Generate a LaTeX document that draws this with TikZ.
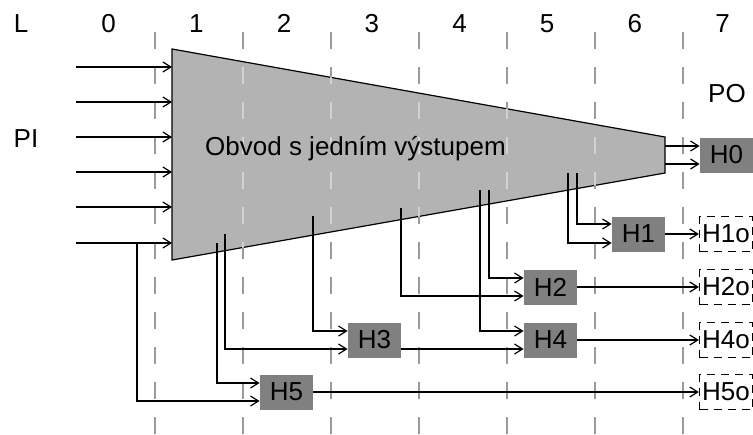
\documentclass[tikz,border=0pt]{standalone}
\usepackage{fontspec}
\setmainfont{Liberation Sans}
\usetikzlibrary{arrows.meta}

\definecolor{trapgray}{HTML}{B3B3B3}
\definecolor{gategray}{HTML}{808080}
\definecolor{levelgray}{HTML}{9A9A9A}
\definecolor{levellight}{HTML}{D2D2D2}

\tikzset{
  gate/.style={fill=gategray, minimum width=26.5pt, minimum height=17.5pt, inner sep=0pt},
  outgate/.style={draw, dash pattern=on 4pt off 3pt, line width=0.6pt, minimum width=26.5pt, minimum height=17.5pt, inner sep=0pt},
  level/.style={levelgray, line width=0.6pt, dash pattern=on 8.5pt off 9pt},
  wire/.style={line width=0.6pt, ->},
}

\begin{document}
\begin{tikzpicture}[x=0.5pt, y=-0.5pt, >={Straight Barb[length=4pt,width=5pt]},
    every node/.style={font=\fontsize{13}{15}\selectfont}]
    \useasboundingbox (0,0) rectangle (753,434);

    % Level labels
    \foreach \t [count=\i from 0] in {L,0,1,2,3,4,5,6,7}
        \node[anchor=base] (col\i) at (21+87.7*\i, 32) {\t};

    % Circuit body
    \coordinate (tl) at (172,49);
    \coordinate (bl) at (172,260);
    \coordinate (tr) at (665,137);
    \coordinate (br) at (665,173);
    \draw[fill=trapgray, line width=0.6pt] (tl) -- (tr) -- (br) -- (bl) -- cycle;

    % Level borders
    \foreach \x in {155,243,331,419,507,595,683}
        \draw[level] (\x,32) -- (\x,434);
    \begin{scope}
        \clip (tl) -- (tr) -- (br) -- (bl) -- cycle;
        \foreach \x in {243,331,419,507,595}
            \draw[level, levellight] (\x,32) -- (\x,434);
    \end{scope}

    \node[anchor=base] (body) at (355.5,155) {Obvod s jedním výstupem};
    \node[anchor=base] (pi) at (26,147) {PI};
    \node[anchor=base] (po) at (727,102) {PO};

    % Primary inputs
    \foreach \y [count=\i] in {67,102,137,172,207,243} {
        \coordinate (pi\i) at (76,\y);
        \draw[wire] (pi\i) -- (tl |- pi\i);
    }

    % Gates
    \node[gate] (H0) at (726.5,155) {H0};
    \node[gate] (H1) at (638.5,234) {H1};
    \node[gate] (H2) at (550.5,287) {H2};
    \node[gate] (H4) at (550.5,340) {H4};
    \node[gate] (H3) at (374.5,340) {H3};
    \node[gate] (H5) at (286.5,392) {H5};

    % Pseudo outputs
    \node[outgate] (H1o) at (726,234) {H1o};
    \node[outgate] (H2o) at (726,287) {H2o};
    \node[outgate] (H4o) at (726,340) {H4o};
    \node[outgate] (H5o) at (726,392) {H5o};

    % Taps inside the circuit
    \coordinate (t0a) at (665,146);
    \coordinate (t0b) at (665,164);
    \coordinate (t1a) at (577,173);
    \coordinate (t1b) at (568,173);
    \coordinate (t2a) at (489,190);
    \coordinate (t4a) at (480,190);
    \coordinate (t2b) at (401,208);
    \coordinate (t3a) at (313,216);
    \coordinate (t3b) at (225,234);
    \coordinate (t5a) at (217,243);
    \coordinate (t5b) at (137,243);

    % Connections
    \draw[wire] (t0a) -- (t0a -| H0.west);
    \draw[wire] (t0b) -- (t0b -| H0.west);
    \draw[wire] (t1a) |- ([yshift=5pt]H1.west);
    \draw[wire] (t1b) |- ([yshift=-4.5pt]H1.west);
    \draw[wire] (t2a) |- ([yshift=4.5pt]H2.west);
    \draw[wire] (t2b) |- ([yshift=-4.5pt]H2.west);
    \draw[wire] (t4a) |- ([yshift=4.5pt]H4.west);
    \draw[wire] ([yshift=-4.5pt]H3.east) -- ([yshift=-4.5pt]H4.west);
    \draw[wire] (t3a) |- ([yshift=4.5pt]H3.west);
    \draw[wire] (t3b) |- ([yshift=-4.5pt]H3.west);
    \draw[wire] (t5a) |- ([yshift=4.5pt]H5.west);
    \draw[wire] (t5b) |- ([yshift=-4.5pt]H5.west);

    \draw[wire] (H1) -- (H1o);
    \draw[wire] (H2) -- (H2o);
    \draw[wire] (H4) -- (H4o);
    \draw[wire] (H5) -- (H5o);
\end{tikzpicture}
\end{document}
